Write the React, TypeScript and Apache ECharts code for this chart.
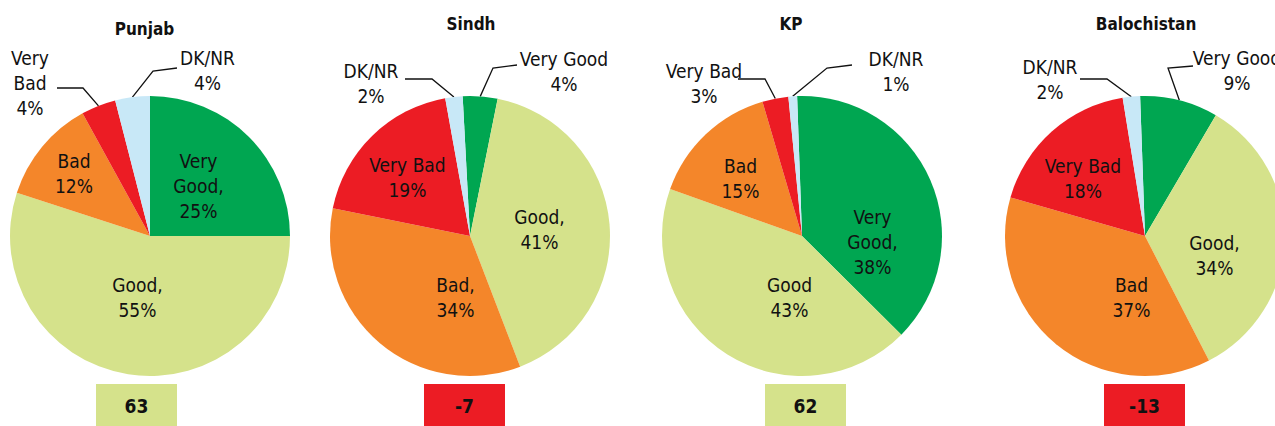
import { useEffect, useRef } from 'react';
import * as echarts from 'echarts';

// ---- data ----
const regions = ['Punjab', 'Sindh', 'KP', 'Balochistan'];
const categories = ['Very Good', 'Good', 'Bad', 'Very Bad', 'DK/NR'];
const punjabValues = [25, 55, 12, 4, 4];
const sindhValues = [4, 41, 34, 19, 2];
const kpValues = [38, 43, 15, 3, 1];
const balochistanValues = [9, 34, 37, 18, 2];
const netScores = [63, -7, 62, -13];

// label wording as printed on each pie
const punjabLabels = ['Very\nGood,', 'Good,', 'Bad', 'Very\nBad', 'DK/NR'];
const sindhLabels = ['Very Good', 'Good,', 'Bad,', 'Very Bad', 'DK/NR'];
const kpLabels = ['Very\nGood,', 'Good', 'Bad', 'Very Bad', 'DK/NR'];
const balochistanLabels = ['Very Good', 'Good,', 'Bad', 'Very Bad', 'DK/NR'];

const allValues = [punjabValues, sindhValues, kpValues, balochistanValues];
const allLabels = [punjabLabels, sindhLabels, kpLabels, balochistanLabels];

// ---- styles / layout ----
const COLORS = ['#00A651', '#D5E28B', '#F4862A', '#EC1C24', '#C8E8F7'];
const FONT = "'DejaVu Sans Condensed', 'Liberation Sans Narrow', 'Arial Narrow', sans-serif";
const INK = '#111111';

const centersX = [150, 470, 802, 1145];
const CY = 236;
const R = 140;
const startAngles = [90, 93, 92, 92];
const titleX = [144.5, 471, 791, 1146];
const titleY = [29, 24, 24, 24];
const boxX = [96, 424, 765, 1104];
const BOX_Y = 384;
const BOX_W = 81;
const BOX_H = 43;

type Pt = [number, number];
type Spot = { label: Pt; bend?: Pt; end?: Pt };
// label centres (and leader line bends) relative to each pie centre
const labelSpots: Spot[][] = [
  [
    { label: [48.5, -50.5] },
    { label: [-12.5, 61.5] },
    { label: [-76, -63] },
    { label: [-120, -153], bend: [-67, -148], end: [-93, -148] },
    { label: [57.5, -166], bend: [3, -165], end: [27, -168] },
  ],
  [
    { label: [94, -165], bend: [23, -168], end: [47, -171] },
    { label: [69.5, -7] },
    { label: [-14.5, 61] },
    { label: [-62.5, -58.5] },
    { label: [-99, -152.5], bend: [-38, -157], end: [-65, -157] },
  ],
  [
    { label: [70.5, 5.5] },
    { label: [-12.5, 61] },
    { label: [-61.5, -58] },
    { label: [-98, -153], bend: [-37, -157], end: [-64, -157] },
    { label: [94, -165], bend: [25, -168], end: [50, -171] },
  ],
  [
    { label: [92, -165.5], bend: [23, -168], end: [48, -170] },
    { label: [69.5, 19] },
    { label: [-13.5, 61] },
    { label: [-62, -58] },
    { label: [-95, -157], bend: [-38, -157], end: [-65, -157] },
  ],
];

function buildSeries(s: number) {
  const values = allValues[s];
  const labels = allLabels[s];
  const cx = centersX[s];
  const total = values.reduce((a, b) => a + b, 0);
  return {
    type: 'pie',
    name: regions[s],
    center: [cx, CY],
    radius: R,
    startAngle: startAngles[s],
    clockwise: true,
    avoidLabelOverlap: false,
    silent: true,
    emphasis: { disabled: true },
    label: {
      show: true,
      position: 'inside',
      color: INK,
      fontFamily: FONT,
      fontSize: 19,
      lineHeight: 25,
      formatter: (p: any) => labels[p.dataIndex] + '\n' + p.value + '%',
    },
    labelLine: {
      show: false,
      length: 20,
      length2: 25,
      smooth: false,
      lineStyle: { color: INK, width: 1.3 },
    },
    labelLayout: (p: any) => {
      const spot = labelSpots[s][p.dataIndex];
      const out: any = {
        x: cx + spot.label[0],
        y: CY + spot.label[1],
        align: 'center',
        verticalAlign: 'middle',
      };
      if (spot.bend && spot.end) {
        let start = p.labelLinePoints && p.labelLinePoints[0];
        if (!start) {
          let cum = 0;
          for (let i = 0; i < p.dataIndex; i++) cum += values[i];
          const frac = (cum + values[p.dataIndex] / 2) / total;
          const a = ((90 - startAngles[s]) + frac * 360) * Math.PI / 180;
          start = [cx + R * Math.sin(a), CY - R * Math.cos(a)];
        }
        out.labelLinePoints = [
          start,
          [cx + spot.bend[0], CY + spot.bend[1]],
          [cx + spot.end[0], CY + spot.end[1]],
        ];
      }
      return out;
    },
    data: values.map((v, i) => {
      const outside = !!labelSpots[s][i].bend;
      return {
        name: categories[i],
        value: v,
        itemStyle: { color: COLORS[i] },
        label: { position: outside ? 'outside' : 'inside' },
        labelLine: { show: outside },
      };
    }),
  };
}

export default function App() {
  const ref = useRef<HTMLDivElement>(null);
  useEffect(() => {
    if (!ref.current) return;
    const chart = echarts.init(ref.current, undefined, { renderer: 'svg' });
    chart.setOption({
      animation: false,
      backgroundColor: '#ffffff',
      title: regions.map((r, i) => ({
        text: r,
        left: titleX[i],
        top: titleY[i],
        textAlign: 'center',
        textVerticalAlign: 'middle',
        padding: 0,
        textStyle: { fontFamily: FONT, fontWeight: 'bold', fontSize: 17, color: INK },
      })),
      series: regions.map((_, s) => buildSeries(s)),
      graphic: netScores.map((v, i) => ({
        type: 'group',
        children: [
          {
            type: 'rect',
            shape: { x: boxX[i], y: BOX_Y, width: BOX_W, height: BOX_H },
            style: { fill: v >= 0 ? COLORS[1] : COLORS[3] },
          },
          {
            type: 'text',
            x: boxX[i] + BOX_W / 2,
            y: BOX_Y + 21.5,
            style: {
              text: String(v),
              font: `bold 19px ${FONT}`,
              fill: INK,
              align: 'center',
              verticalAlign: 'middle',
              textAlign: 'center',
              textVerticalAlign: 'middle',
            },
          },
        ],
      })),
    });
    return () => chart.dispose();
  }, []);
  return (
    <div
      ref={ref}
      style={{ position: 'fixed', left: 0, top: 0, width: 1275, height: 426 }}
    />
  );
}
